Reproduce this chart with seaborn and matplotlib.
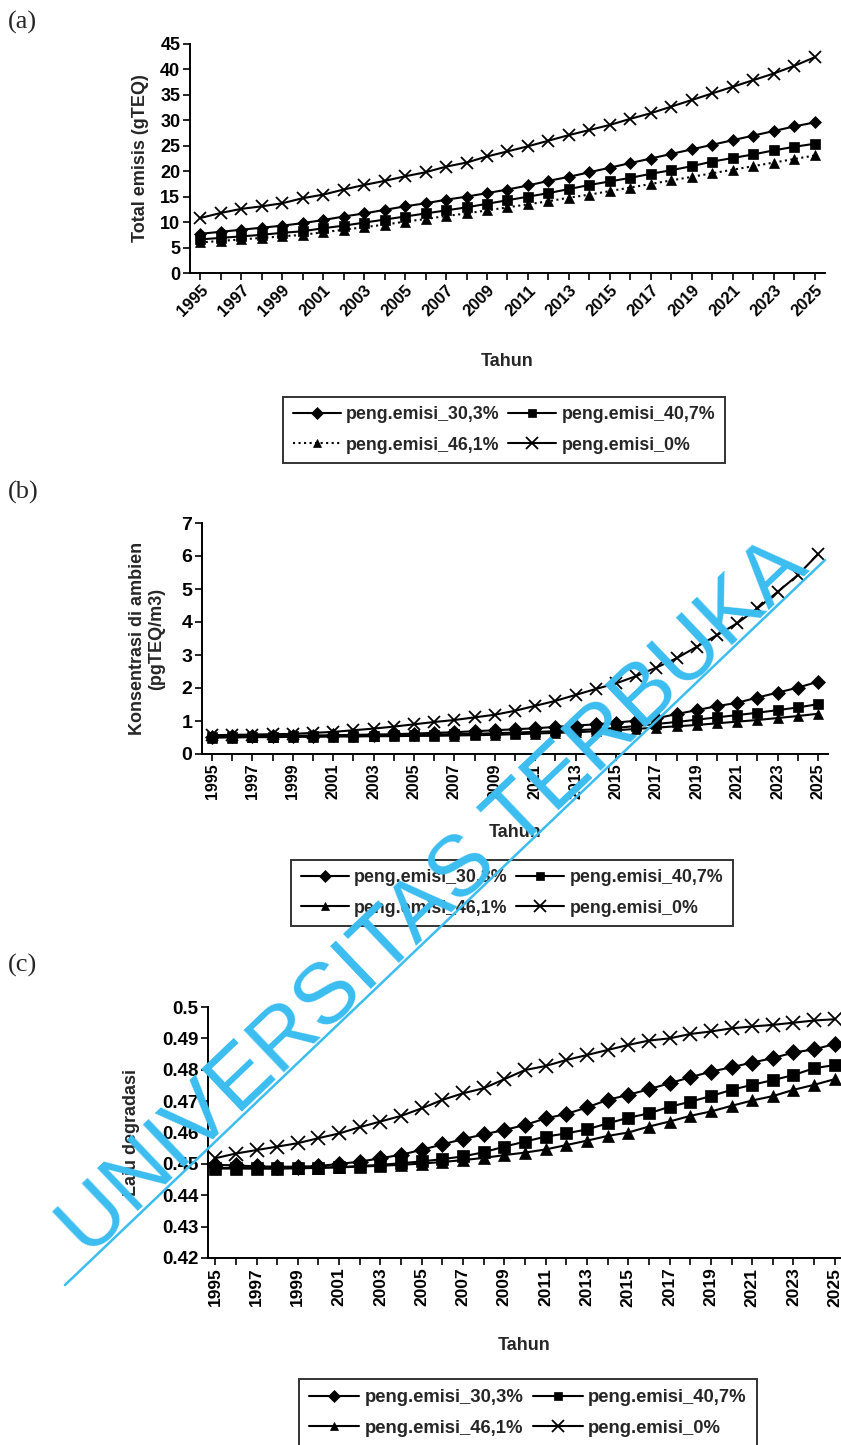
import numpy as np
import pandas as pd
import seaborn as sns
import matplotlib.pyplot as plt
from matplotlib.lines import Line2D

years = list(range(1995, 2026))

labels = ['peng.emisi_30,3%', 'peng.emisi_40,7%', 'peng.emisi_46,1%', 'peng.emisi_0%']

# (a) total emisi (gTEQ)
emisi_30 = [7.7, 8.1, 8.5, 8.9, 9.3, 9.8, 10.4, 11.1, 11.7, 12.4, 13.1, 13.7, 14.4, 15.0, 15.7,
            16.4, 17.2, 18.1, 18.9, 19.8, 20.7, 21.6, 22.5, 23.4, 24.3, 25.2, 26.1, 27.0, 27.9, 28.8, 29.6]
emisi_40 = [6.6, 6.9, 7.2, 7.5, 7.9, 8.2, 8.8, 9.3, 9.9, 10.5, 11.1, 11.7, 12.3, 12.9, 13.6,
            14.3, 15.0, 15.7, 16.5, 17.3, 18.0, 18.7, 19.5, 20.2, 21.0, 21.9, 22.6, 23.3, 24.1, 24.8, 25.4]
emisi_46 = [6.0, 6.3, 6.6, 6.9, 7.2, 7.5, 8.0, 8.5, 9.0, 9.5, 10.1, 10.6, 11.2, 11.7, 12.3,
            12.9, 13.5, 14.1, 14.8, 15.4, 16.1, 16.8, 17.5, 18.2, 18.9, 19.6, 20.3, 21.0, 21.7, 22.4, 23.1]
emisi_0 = [10.8, 11.8, 12.6, 13.1, 13.7, 14.7, 15.4, 16.4, 17.3, 18.1, 19.0, 19.8, 20.9, 21.7, 22.9,
           23.9, 24.9, 26.0, 27.1, 28.1, 29.1, 30.3, 31.4, 32.7, 34.0, 35.3, 36.6, 37.9, 39.2, 40.7, 42.4]

# (b) konsentrasi ambien (pgTEQ/m3)
konsen_30 = [0.53, 0.54, 0.54, 0.55, 0.55, 0.56, 0.57, 0.58, 0.59, 0.60, 0.62, 0.64, 0.66, 0.69, 0.72,
             0.75, 0.78, 0.82, 0.86, 0.90, 0.95, 1.01, 1.08, 1.21, 1.33, 1.45, 1.55, 1.71, 1.86, 2.01, 2.19]
konsen_40 = [0.52, 0.52, 0.53, 0.53, 0.54, 0.54, 0.55, 0.55, 0.56, 0.57, 0.58, 0.59, 0.60, 0.61, 0.63,
             0.65, 0.67, 0.69, 0.72, 0.75, 0.79, 0.85, 0.91, 0.97, 1.04, 1.11, 1.18, 1.25, 1.33, 1.41, 1.51]
konsen_46 = [0.50, 0.50, 0.51, 0.51, 0.52, 0.52, 0.53, 0.53, 0.54, 0.54, 0.55, 0.55, 0.56, 0.57, 0.58,
             0.60, 0.62, 0.64, 0.66, 0.69, 0.72, 0.76, 0.80, 0.84, 0.88, 0.93, 0.98, 1.03, 1.09, 1.15, 1.22]
konsen_0 = [0.57, 0.58, 0.59, 0.60, 0.61, 0.64, 0.67, 0.72, 0.77, 0.83, 0.90, 0.97, 1.03, 1.11, 1.19,
            1.31, 1.46, 1.61, 1.79, 1.97, 2.14, 2.36, 2.62, 2.90, 3.25, 3.60, 3.96, 4.41, 4.91, 5.42, 6.05]

# (c) laju degradasi
laju_30 = [0.4497, 0.4495, 0.4492, 0.4491, 0.4491, 0.4493, 0.4500, 0.4507, 0.4518, 0.4529, 0.4545,
           0.4562, 0.4579, 0.4594, 0.4608, 0.4624, 0.4645, 0.4659, 0.4680, 0.4704, 0.4720, 0.4738,
           0.4757, 0.4776, 0.4794, 0.4808, 0.4823, 0.4837, 0.4855, 0.4865, 0.4882]
laju_40 = [0.4487, 0.4487, 0.4486, 0.4486, 0.4487, 0.4488, 0.4490, 0.4493, 0.4497, 0.4502, 0.4508,
           0.4515, 0.4524, 0.4537, 0.4555, 0.4571, 0.4587, 0.4597, 0.4610, 0.4629, 0.4647, 0.4661,
           0.4682, 0.4698, 0.4716, 0.4736, 0.4752, 0.4767, 0.4783, 0.4805, 0.4815]
laju_46 = [0.4485, 0.4485, 0.4485, 0.4485, 0.4486, 0.4487, 0.4489, 0.4491, 0.4494, 0.4497, 0.4501,
           0.4506, 0.4512, 0.4519, 0.4528, 0.4536, 0.4546, 0.4560, 0.4574, 0.4589, 0.4600, 0.4619,
           0.4635, 0.4653, 0.4667, 0.4685, 0.4702, 0.4716, 0.4736, 0.4752, 0.4770]
laju_0 = [0.4518, 0.4533, 0.4544, 0.4555, 0.4566, 0.4582, 0.4597, 0.4617, 0.4635, 0.4653, 0.4677,
          0.4704, 0.4725, 0.4741, 0.4770, 0.4799, 0.4812, 0.4831, 0.4847, 0.4863, 0.4879, 0.4893,
          0.4900, 0.4914, 0.4922, 0.4932, 0.4938, 0.4943, 0.4950, 0.4957, 0.4961]

sns.set_style('ticks')
plt.rcParams['font.family'] = ['Liberation Sans', 'DejaVu Sans']
plt.rcParams['font.weight'] = 'bold'
plt.rcParams['axes.labelweight'] = 'bold'

W, H = 841, 1445
fig = plt.figure(figsize=(W / 100, H / 100), dpi=100)


def box(l, t, r, b):
    return [l / W, 1 - b / H, (r - l) / W, (b - t) / H]


markers = ['D', 's', '^', 'x']


def panel(rect, series, styles, ylim, yticks, ytfmt, ylabel, xlim, xrot, ms, ysize, xsize,
          ylpad, xlpad, leg_center, leg_size):
    ax = fig.add_axes(box(*rect))
    for vals, lab, mk, ls in zip(series, labels, markers, styles):
        sns.lineplot(x=years, y=vals, ax=ax, color='black', marker=mk,
                     markersize=ms if mk != 'x' else ms + 2,
                     markeredgecolor='black', markeredgewidth=1.3 if mk == 'x' else 0.5,
                     linestyle=ls, linewidth=1.5, label=lab, legend=False)
    ax.set_xlim(*xlim)
    ax.set_ylim(*ylim)
    ax.set_yticks(yticks)
    ax.set_yticklabels([ytfmt(v) for v in yticks], fontsize=ysize, fontweight='bold')
    ax.set_xticks(years)
    xl = [str(y) if (y - 1995) % 2 == 0 else '' for y in years]
    if xrot == 45:
        ax.set_xticklabels(xl, rotation=45, ha='right', rotation_mode='anchor',
                           fontsize=xsize, fontweight='bold')
    else:
        ax.set_xticklabels(xl, rotation=90, fontsize=xsize, fontweight='bold')
    sns.despine(ax=ax)
    for s in ['left', 'bottom']:
        ax.spines[s].set_color('black')
        ax.spines[s].set_linewidth(1.4)
    ax.tick_params(colors='black', width=1.2, length=5, direction='out', pad=2)
    ax.set_xlabel('Tahun', fontsize=13, fontweight='bold', labelpad=xlpad)
    ax.set_ylabel(ylabel, fontsize=13, fontweight='bold', labelpad=ylpad, linespacing=1.1)
    handles = [Line2D([], [], color='black', marker=mk, linestyle=ls, linewidth=1.5,
                      markersize=6 if mk != 'x' else 8, markeredgewidth=1.3 if mk == 'x' else 0.5)
               for mk, ls in zip(markers, styles)]
    # column-major fill -> rows: 30,3% | 40,7% ; 46,1% | 0%
    order = [0, 2, 1, 3]
    leg = fig.legend([handles[i] for i in order], [labels[i] for i in order], ncol=2, loc='center',
                     bbox_to_anchor=(leg_center[0] / W, 1 - leg_center[1] / H),
                     frameon=True, fancybox=False, edgecolor='black',
                     handlelength=2.7, handletextpad=0.3, columnspacing=0.5, labelspacing=0.75,
                     borderpad=0.55, borderaxespad=0, prop={'weight': 'bold', 'size': leg_size})
    leg.get_frame().set_linewidth(1.4)
    return ax


ax_a = panel((190, 44, 825, 273), [emisi_30, emisi_40, emisi_46, emisi_0], ['-', '-', ':', '-'],
             (0, 45), list(range(0, 46, 5)), lambda v: f'{v:d}', 'Total emisis (gTEQ)',
             (1994.5, 2025.5), 45, 6.5, 13, 12, 8, 24, (504, 430), 12.8)

ax_b = panel((202, 523, 828, 754), [konsen_30, konsen_40, konsen_46, konsen_0], ['-', '-', '-', '-'],
             (0, 7), list(range(0, 8)), lambda v: f'{v:d}', 'Konsentrasi di ambien\n(pgTEQ/m3)',
             (1994.5, 2025.5), 90, 7, 14, 11.5, 12, 18, (512, 893), 12.8)

ax_c = panel((208, 1007, 841, 1258), [laju_30, laju_40, laju_46, laju_0], ['-', '-', '-', '-'],
             (0.42, 0.5), [round(0.42 + 0.01 * i, 2) for i in range(9)], lambda v: f'{v:g}',
             'Laju degradasi', (1994.65, 2025.3), 90, 8, 13.5, 12.5, 16, 22, (528, 1413), 13.3)

for txt, y in [('(a)', 22), ('(b)', 492), ('(c)', 965)]:
    fig.text(8 / W, 1 - y / H, txt, family=['Liberation Serif', 'DejaVu Serif'], fontsize=19,
             fontweight='normal', va='center', ha='left')

# watermark
cyan = '#3bbdf0'
fig.text(434 / W, 1 - 898 / H, 'UNIVERSITAS TERBUKA', rotation=43.6, rotation_mode='anchor',
         ha='center', va='center', color=cyan, fontsize=62, fontweight='normal',
         family=['Liberation Sans', 'DejaVu Sans'], zorder=10)
fig.add_artist(Line2D([65 / W, 825 / W], [1 - 1285 / H, 1 - 560 / H], color=cyan, linewidth=1.8,
                      transform=fig.transFigure, zorder=10))

fig.savefig('out.png', dpi=100, facecolor='white')
